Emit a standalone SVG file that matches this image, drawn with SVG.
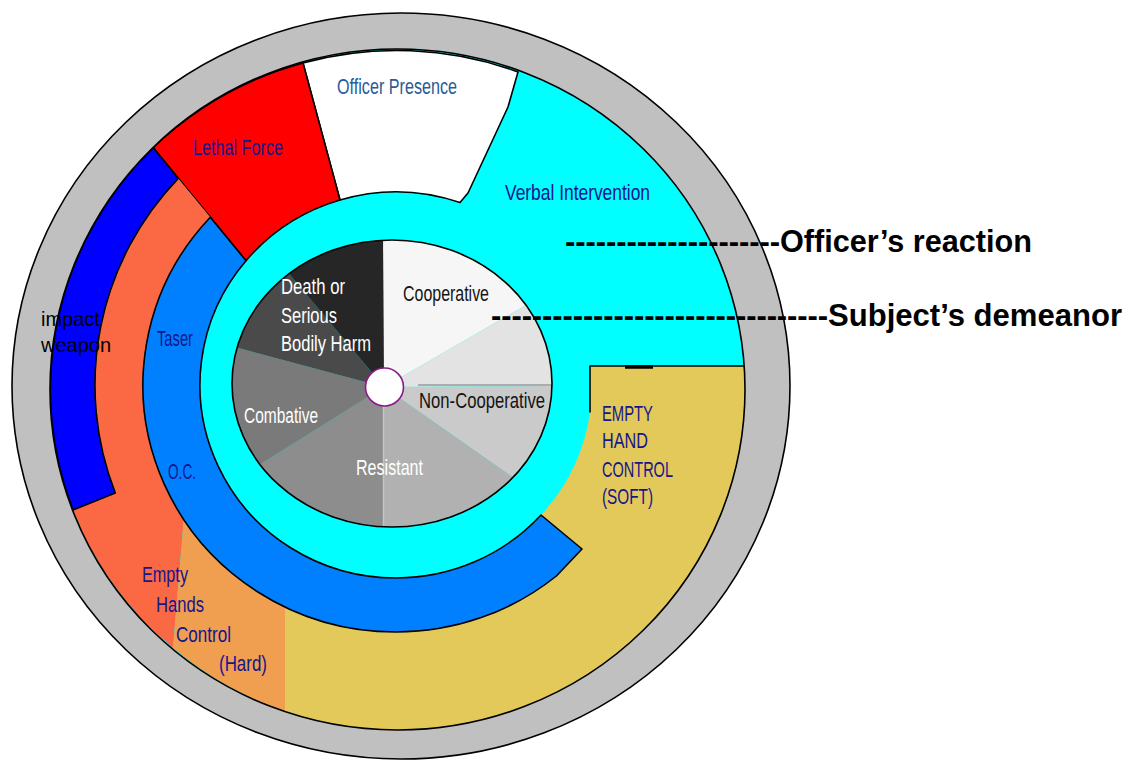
<svg xmlns="http://www.w3.org/2000/svg" width="1131" height="762" viewBox="0 0 1131 762">
  <defs>
    <style>
      .edge{stroke:#000;stroke-width:1.6;stroke-linejoin:round}
      .bit{font-family:"Liberation Sans Narrow","Liberation Sans",Arial,sans-serif;font-size:21.5px}
      .navy{fill:#16168c}
      .steel{fill:#2a5a98}
      .ink{fill:#141414}
      .paper{fill:#ffffff}
      .lead{font-family:"Liberation Sans",Arial,sans-serif;font-size:31px;font-weight:bold;fill:#000}
    </style>
    <clipPath id="clipInner"><ellipse cx="397.5" cy="389.5" rx="347.5" ry="340.5"/></clipPath>
    <clipPath id="clipPie"><ellipse cx="392" cy="383.5" rx="160" ry="143.5"/></clipPath>
  </defs>

  <rect width="1131" height="762" fill="#fff"/>

  <!-- outer rim -->
  <g id="rim">
    <ellipse cx="401" cy="386" rx="389" ry="373" fill="#c0c0c0" class="edge"/>
  </g>

  <!-- officer's reaction bands -->
  <g clip-path="url(#clipInner)">
    <g id="verbal-intervention">
      <ellipse cx="397.5" cy="389.5" rx="347.5" ry="340.5" fill="#00ffff"/>
    </g>
    <g id="officer-presence">
      <path d="M303,63 L340,200 A196,193 0 0 1 460,202.6 L468,193 L508,107 L518,72 A347.5,340.5 0 0 0 303,63 Z" fill="#fff" class="edge"/>
    </g>
    <g id="lethal-force">
      <path d="M153.1,147.6 L246,260.7 A196,193 0 0 1 340,200 L303,63 A347.5,340.5 0 0 0 153.1,147.6 Z" fill="#ff0000" class="edge"/>
    </g>
    <g id="hard-control">
      <path d="M178.3,178.4 A301,299 0 0 0 115.3,493 L73,510 A347.5,340.5 0 0 0 173,648 L183.7,520 A253,247 0 0 1 210.3,217.2 Z" fill="#fb6944"/>
      <path d="M183.7,520 L173,648 A347.5,340.5 0 0 0 285,711.7 L285,607 A253,247 0 0 1 183.7,520 Z" fill="#f09e50"/>
    </g>
    <g id="impact-weapon">
      <path d="M153.1,147.6 A347.5,340.5 0 0 0 73,510 L115.3,493 A301,299 0 0 1 178.3,178.4 Z" fill="#0000ff" class="edge"/>
    </g>
    <g id="soft-control">
      <path d="M285,607 A253,247 0 0 0 556.4,576 L582,549 L541,515 A196,193 0 0 0 590,412.4 L590,366 L744.2,366 A347.5,340.5 0 0 1 285,711.7 Z" fill="#e3c85a"/>
      <path d="M590,412.4 L590,366 L746,366" fill="none" class="edge"/>
      <path d="M625,367 L653,367" stroke="#000" stroke-width="3.5"/>
    </g>
    <g id="taser-oc">
      <path d="M210.3,217.2 A253,247 0 0 0 396,632 A253,247 0 0 0 556.4,576 L582,549 L541,515 A196,193 0 0 1 396,578 A196,193 0 0 1 246,260.7 Z" fill="#0080ff" class="edge"/>
    </g>
  </g>
  <ellipse cx="397.5" cy="389.5" rx="347.5" ry="340.5" fill="none" class="edge"/>

  <!-- subject's demeanor pie -->
  <g id="demeanor" clip-path="url(#clipPie)">
    <path d="M384,387 L382,87 L643.8,237 Z" fill="#f6f6f6"/>
    <path d="M384,387 L643.8,237 L684,385 Z" fill="#e3e3e3"/>
    <path d="M384,387 L684,385 L629.7,559.1 Z" fill="#cacaca"/>
    <path d="M384,387 L629.7,559.1 L383,687 Z" fill="#b1b1b1"/>
    <path d="M384,387 L383,687 L129.6,546 Z" fill="#8d8d8d"/>
    <path d="M384,387 L129.6,546 L94.2,309.4 Z" fill="#7a7a7a"/>
    <path d="M384,387 L94.2,309.4 L191.2,157.2 Z" fill="#4a4a4a"/>
    <path d="M384,387 L191.2,157.2 L382,87 Z" fill="#262626"/>
    <path d="M418,385 L552,385" stroke="#9a9a9a" stroke-width="1.5"/>
    <path d="M383.5,406 L383.5,530" stroke="#c4c4c4" stroke-width="1.5"/>
  </g>
  <ellipse cx="392" cy="383.5" rx="160" ry="143.5" fill="none" class="edge"/>
  <g id="hub">
    <circle cx="384.5" cy="387" r="19" fill="#fff" stroke="#8a1a8a" stroke-width="1.6"/>
  </g>

  <!-- band labels -->
  <g id="labels-reaction">
    <text class="bit steel" x="337" y="94" textLength="120" lengthAdjust="spacingAndGlyphs">Officer Presence</text>
    <text class="bit navy" x="193" y="155" textLength="90" lengthAdjust="spacingAndGlyphs">Lethal Force</text>
    <text class="bit navy" x="505" y="200" textLength="145" lengthAdjust="spacingAndGlyphs">Verbal Intervention</text>
    <text class="bit navy" x="157" y="346" textLength="36" lengthAdjust="spacingAndGlyphs">Taser</text>
    <text class="bit navy" x="168" y="479" textLength="28" lengthAdjust="spacingAndGlyphs">O.C.</text>
    <text class="bit navy" x="142" y="582" textLength="46" lengthAdjust="spacingAndGlyphs">Empty</text>
    <text class="bit navy" x="156" y="612" textLength="48" lengthAdjust="spacingAndGlyphs">Hands</text>
    <text class="bit navy" x="176" y="642" textLength="55" lengthAdjust="spacingAndGlyphs">Control</text>
    <text class="bit navy" x="219" y="671" textLength="48" lengthAdjust="spacingAndGlyphs">(Hard)</text>
    <text class="bit navy" x="602" y="421" textLength="51" lengthAdjust="spacingAndGlyphs">EMPTY</text>
    <text class="bit navy" x="602" y="448" textLength="46" lengthAdjust="spacingAndGlyphs">HAND</text>
    <text class="bit navy" x="602" y="477" textLength="71" lengthAdjust="spacingAndGlyphs">CONTROL</text>
    <text class="bit navy" x="602" y="504" textLength="51" lengthAdjust="spacingAndGlyphs">(SOFT)</text>
    <text font-family="Liberation Sans, Arial, sans-serif" font-size="20" fill="#000" x="41" y="326">impact</text>
    <text font-family="Liberation Sans, Arial, sans-serif" font-size="20" fill="#000" x="41" y="352">weapon</text>
  </g>

  <g id="labels-demeanor">
    <text class="bit ink" x="403" y="301" textLength="86" lengthAdjust="spacingAndGlyphs">Cooperative</text>
    <text class="bit ink" x="419" y="408" textLength="126" lengthAdjust="spacingAndGlyphs">Non-Cooperative</text>
    <text class="bit paper" x="281" y="294" textLength="64" lengthAdjust="spacingAndGlyphs">Death or</text>
    <text class="bit paper" x="281" y="323" textLength="56" lengthAdjust="spacingAndGlyphs">Serious</text>
    <text class="bit paper" x="281" y="351" textLength="90" lengthAdjust="spacingAndGlyphs">Bodily Harm</text>
    <text class="bit paper" x="244" y="423" textLength="74" lengthAdjust="spacingAndGlyphs">Combative</text>
    <text class="bit paper" x="356" y="475" textLength="67" lengthAdjust="spacingAndGlyphs">Resistant</text>
  </g>

  <!-- leader captions -->
  <g id="leaders">
    <text class="lead" x="565" y="252"><tspan textLength="215" lengthAdjust="spacing">---------------------</tspan><tspan x="780" textLength="252" lengthAdjust="spacingAndGlyphs">Officer’s reaction</tspan></text>
    <text class="lead" x="491" y="326"><tspan textLength="337" lengthAdjust="spacing">---------------------------------</tspan><tspan x="828" textLength="294" lengthAdjust="spacingAndGlyphs">Subject’s demeanor</tspan></text>
  </g>
</svg>
